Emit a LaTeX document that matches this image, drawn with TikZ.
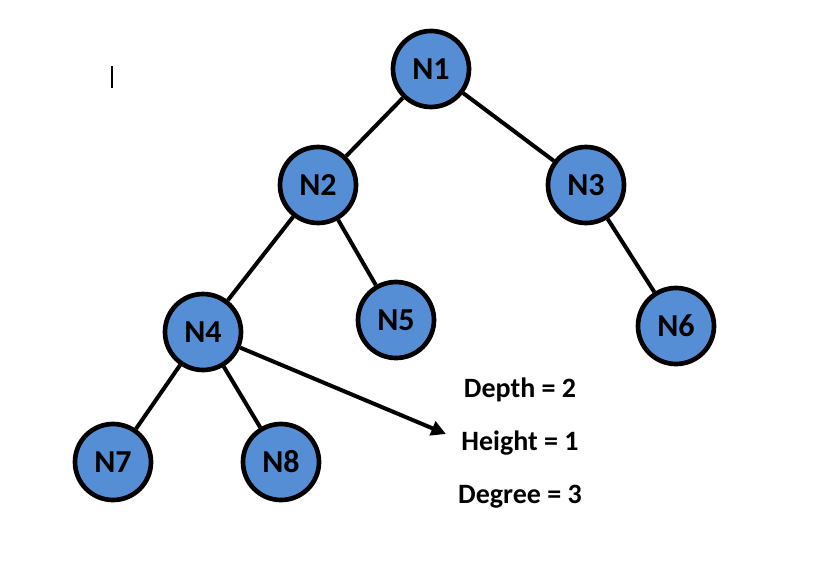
\documentclass[tikz,border=0pt]{standalone}
\usepackage{fontspec}
\setmainfont{Carlito}
\usepackage{xcolor}
\usepackage{tikz}
\usetikzlibrary{arrows.meta, positioning}
\definecolor{nodeblue}{HTML}{558ED5}
\tikzstyle{treenode} = [circle, minimum size=57pt, inner sep=0pt, draw=black, line width=3.5pt, fill=nodeblue, text=black, font=\bfseries\fontsize{24}{28}\selectfont]
\tikzstyle{edge} = [line width=3pt, black]
\tikzstyle{arrow} = [line width=3pt, -{Triangle[length=11pt, width=11pt]}, black]
\tikzstyle{info} = [font=\bfseries\fontsize{21}{24}\selectfont, text=black]

\begin{document}
\begin{tikzpicture}[x=0.75pt, y=-0.75pt]
    \useasboundingbox (0,0) rectangle (816,574);

    % Tree edges
    \coordinate (p1) at (431,69);
    \coordinate (p2) at (318,185);
    \coordinate (p3) at (586,185);
    \coordinate (p4) at (203,332);
    \coordinate (p5) at (396,320);
    \coordinate (p6) at (676,326);
    \coordinate (p7) at (113,462);
    \coordinate (p8) at (281,462);

    % Nodes
    \node (n1) [treenode] at (p1) {N1};
    \node (n2) [treenode] at (p2) {N2};
    \node (n3) [treenode] at (p3) {N3};
    \node (n4) [treenode] at (p4) {N4};
    \node (n5) [treenode] at (p5) {N5};
    \node (n6) [treenode] at (p6) {N6};
    \node (n7) [treenode] at (p7) {N7};
    \node (n8) [treenode] at (p8) {N8};

    % Tree edges
    \draw [edge] (n1) -- (n2);
    \draw [edge] (n1) -- (n3);
    \draw [edge] (n2) -- (n4);
    \draw [edge] (n2) -- (n5);
    \draw [edge] (n3) -- (n6);
    \draw [edge] (n4) -- (n7);
    \draw [edge] (n4) -- (n8);

    % Properties of N4
    \node (depth) [info] at (520,390) {Depth = 2};
    \node (height) [info] at (520,443) {Height = 1};
    \node (degree) [info] at (520,497) {Degree = 3};
    \coordinate (tip) at (446,434);
    \draw [arrow] (n4) -- (tip);

    % Cursor mark
    \draw [line width=1.5pt] (112,66) -- (112,88);

\end{tikzpicture}
\end{document}
